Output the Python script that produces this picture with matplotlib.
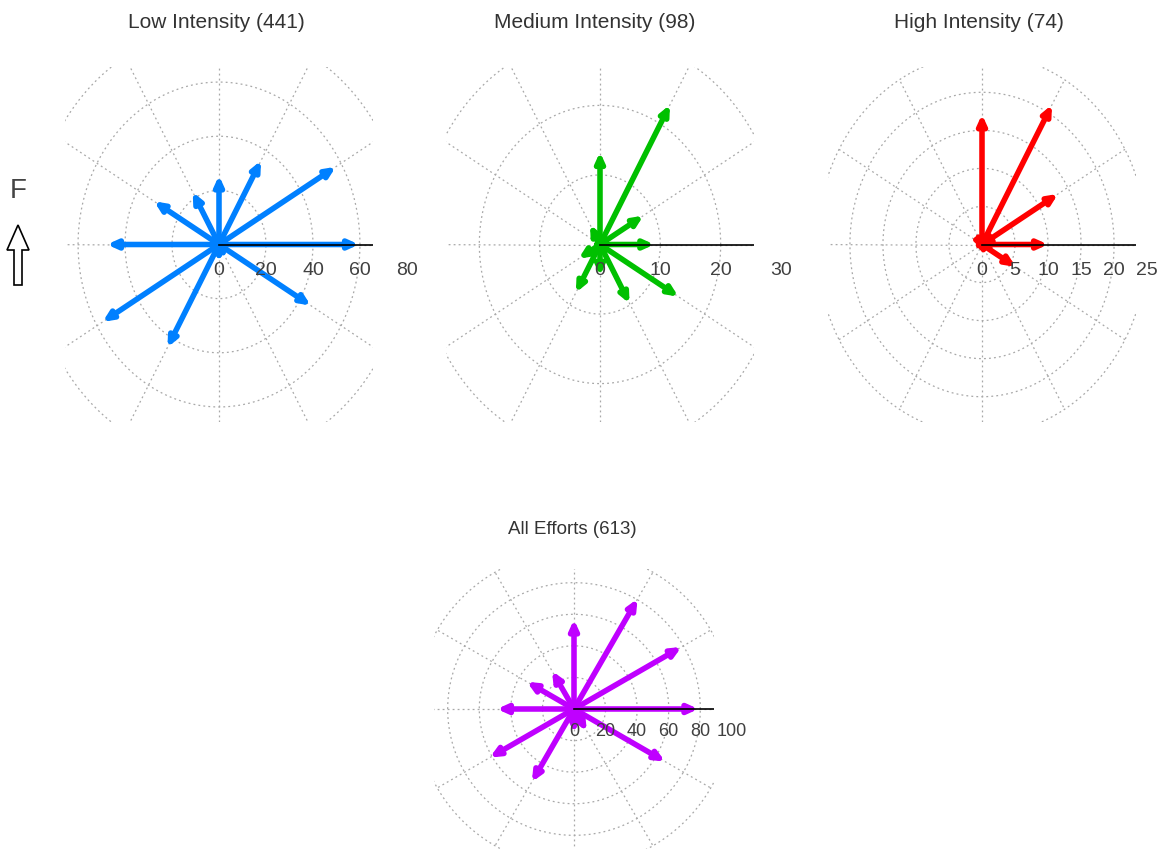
import numpy as np
import matplotlib
matplotlib.use("Agg")
import matplotlib.pyplot as plt
from matplotlib.patches import FancyArrow

plt.rcParams["font.family"] = ["Liberation Sans", "DejaVu Sans"]

# effort counts per heading, 12 headings at 30 degree steps
directions = np.arange(0, 360, 30)

low_intensity = [59.6, 57.4, 35.8, 25.5, 22.4, 31.9, 47.7, 57.2, 43.9, 6.5, 6.0, 45.1]
medium_intensity = [9.0, 8.3, 23.2, 13.3, 3.3, 1.5, 1.5, 4.1, 8.0, 4.5, 9.8, 15.0]
high_intensity = [10.0, 13.3, 21.2, 17.1, 2.0, 1.5, 1.0, 0.5, 0.8, 1.2, 1.0, 5.9]
all_efforts = [78.8, 78.6, 80.6, 56.7, 27.8, 34.5, 48.8, 61.6, 53.4, 15.2, 16.3, 66.6]

titles = ["Low Intensity (441)", "Medium Intensity (98)", "High Intensity (74)", "All Efforts (613)"]
colors = ["#0080ff", "#00c000", "#ff0000", "#bf00ff"]
ring_steps = [20, 10, 5, 20]

W, H = 1165, 851
fig = plt.figure(figsize=(W / 100, H / 100), dpi=100)

grid_kw = dict(color="#a8a8a8", lw=0.9, linestyle=(0, (1.5, 2.5)), zorder=1)


def px_axes(x0, y0, w, h):
    # axes placed by pixel box, measured from the top-left corner
    return fig.add_axes([x0 / W, 1 - (y0 + h) / H, w / W, h / H])


def compass(ax, values, color, step, label_drop, label_size):
    vals = np.asarray(values, dtype=float)
    theta = np.deg2rad(directions)
    lim = 1.1 * vals.max()
    outer = np.ceil(lim / step) * step

    t = np.linspace(0, 2 * np.pi, 361)
    for r in np.arange(step, outer + step / 2, step):
        ax.plot(r * np.cos(t), r * np.sin(t), **grid_kw)
    for a in np.deg2rad(np.arange(0, 360, 30)):
        ax.plot([0, outer * np.cos(a)], [0, outer * np.sin(a)], **grid_kw)

    for a, v in zip(theta, vals):
        ax.annotate("", xy=(v * np.cos(a), v * np.sin(a)), xytext=(0, 0),
                    arrowprops=dict(arrowstyle="-|>,head_length=0.55,head_width=0.25",
                                    color=color, lw=4.0, shrinkA=0, shrinkB=0),
                    zorder=4)

    ax.plot([0, lim], [0, 0], color="black", lw=1.2, zorder=5)

    for r in np.arange(0, outer + step / 2, step):
        ax.annotate(f"{r:g}", xy=(r, 0), xytext=(0, -label_drop), textcoords="offset points",
                    ha="center", va="center", fontsize=label_size, color="#404040",
                    annotation_clip=False, zorder=6)

    ax.set_xlim(-lim, lim)
    ax.set_ylim(-lim, lim)
    ax.axis("off")


top_boxes = [(65, 67, 308, 355), (446, 67, 308, 355), (828, 67, 308, 355)]
series = [low_intensity, medium_intensity, high_intensity]
title_x = [216, 595, 979]

for i in range(3):
    ax = px_axes(*top_boxes[i])
    compass(ax, series[i], colors[i], ring_steps[i], 18.5, 14)
    fig.text(title_x[i] / W, 1 - 23 / H, titles[i], ha="center", va="center",
             fontsize=15, color="#333333")

ax = px_axes(434, 569, 280, 280)
compass(ax, all_efforts, colors[3], ring_steps[3], 16, 13)
fig.text(572 / W, 1 - 530 / H, titles[3], ha="center", va="center",
         fontsize=13.5, color="#333333")

# reference direction marker on the left
fig.text(18 / W, 1 - 191 / H, "F", ha="center", va="center", fontsize=20,
         color="#444444")
fig.add_artist(FancyArrow(0.18, 5.66, 0, 0.60, width=0.08, head_width=0.22,
                          head_length=0.25, length_includes_head=True,
                          transform=fig.dpi_scale_trans, fc="white", ec="black", lw=1.2))

fig.savefig("out.png", dpi=100, facecolor="white")
